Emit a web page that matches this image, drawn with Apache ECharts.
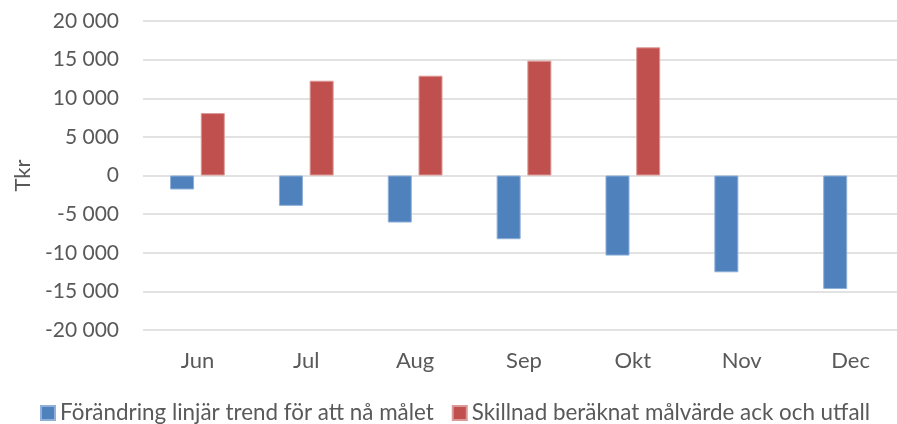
<!DOCTYPE html>
<html>
<head>
<meta charset="utf-8">
<script src="https://cdn.jsdelivr.net/npm/echarts@6/dist/echarts.min.js"></script>
<style>
  html, body { margin: 0; padding: 0; background: #fff; }
  #main { width: 897px; height: 424px; }
</style>
</head>
<body>
<div id="main"></div>
<script>
const months = ['Jun', 'Jul', 'Aug', 'Sep', 'Okt', 'Nov', 'Dec'];
const trendName = 'Förändring linjär trend för att nå målet';
const diffName = 'Skillnad beräknat målvärde ack och utfall';
const trendValues = [-1810, -3930, -6090, -8250, -10370, -12530, -14690];
const diffValues = [8080, 12270, 12920, 14870, 16590, null, null];
const yMin = -20000;
const yMax = 20000;
const yStep = 5000;

const textColor = '#595959';
const font = 'Lato';

// thousands separated by a space, like the original
const fmt = (v) => {
    let s = String(Math.abs(v)).replace(/\B(?=(\d{3})+(?!\d))/g, ' ');
    return (v < 0 ? '-' : '') + s;
};

let chart = echarts.init(document.getElementById('main'));
chart.setOption({
    animation: false,
    textStyle: { fontFamily: font },
    grid: {
        left: 143,
        width: 762,
        top: 21,
        bottom: 94,
        outerBoundsMode: 'none'
    },
    legend: {
        top: 402,
        left: 40,
        right: 0,
        padding: 0,
        itemWidth: 14,
        itemHeight: 14,
        itemGap: 18,
        icon: 'rect',
        textStyle: { color: textColor, fontSize: 22.4, fontFamily: font },
        data: [trendName, diffName]
    },
    xAxis: {
        type: 'category',
        data: months,
        axisLine: { show: false, onZero: false },
        axisTick: { show: false },
        axisLabel: { color: textColor, fontSize: 22, margin: 20 }
    },
    yAxis: {
        type: 'value',
        min: yMin,
        max: yMax,
        interval: yStep,
        name: 'Tkr',
        nameLocation: 'middle',
        nameGap: 106,
        nameTextStyle: { color: textColor, fontSize: 22 },
        axisLine: { show: false },
        axisTick: { show: false },
        axisLabel: { color: textColor, fontSize: 21, margin: 24, formatter: fmt },
        splitLine: { lineStyle: { color: '#D9D9D9', width: 1.5 } }
    },
    series: [
        {
            name: trendName,
            type: 'bar',
            data: trendValues,
            barWidth: 24,
            barGap: '28%',
            itemStyle: { color: '#4F81BD', borderColor: '#8FB0D8', borderWidth: 1 }
        },
        {
            name: diffName,
            type: 'bar',
            data: diffValues,
            barWidth: 24,
            itemStyle: { color: '#C0504D', borderColor: '#DC9896', borderWidth: 1 }
        }
    ]
});
window.addEventListener('resize', () => { chart.resize() });
</script>
</body>
</html>
